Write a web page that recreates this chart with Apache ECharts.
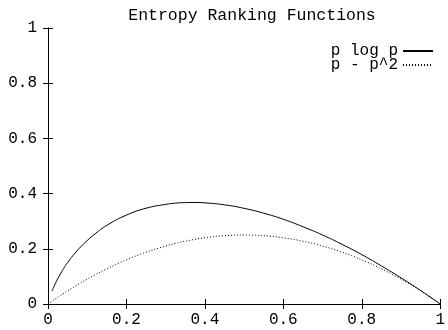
<!DOCTYPE html>
<html lang="en">
<head>
    <meta charset="UTF-8">
    <title>Entropy Ranking Functions</title>
    <script src="https://fastly.jsdelivr.net/npm/echarts@6/dist/echarts.min.js"></script>
    <style>
        html, body { margin: 0; padding: 0; background: #fff; }
    </style>
</head>
<body>
    <div id="dv" style="width:448px;height:330px;"></div>
</body>
<script>
   // x positions (p)
   var pValues = [0, 0.01, 0.02, 0.03, 0.04, 0.05, 0.06, 0.08, 0.1, 0.12, 0.15,
                  0.2, 0.25, 0.3, 0.325, 0.35, 0.375, 0.4, 0.45, 0.5, 0.55, 0.6, 0.65, 0.7,
                  0.75, 0.8, 0.85, 0.9, 0.95, 1.0]
   // solid curve, undefined at p = 0
   var plogpValues = [null, 0.046, 0.078, 0.105, 0.129, 0.150, 0.169, 0.202, 0.230, 0.254, 0.285,
                      0.322, 0.347, 0.361, 0.3654, 0.3674, 0.3678, 0.3665, 0.3593, 0.3466, 0.329, 0.307, 0.280, 0.250,
                      0.216, 0.179, 0.138, 0.095, 0.049, 0]
   // dotted curve
   var pp2Values = [0, 0.0099, 0.0196, 0.0291, 0.0384, 0.0475, 0.0564, 0.0736, 0.09, 0.1056, 0.1275,
                    0.16, 0.1875, 0.21, 0.2194, 0.2275, 0.2344, 0.24, 0.2475, 0.25, 0.2475, 0.24, 0.2275, 0.21,
                    0.1875, 0.16, 0.1275, 0.09, 0.0475, 0]
   var seriesNames = ['p log p', 'p - p^2']

   var font = 'Liberation Mono'
   var toPairs = (ys) => pValues.map((x, i) => [x, ys[i]])

   var myChart = echarts.init(document.getElementById('dv'))
   var frameAxis = {
        type: 'value',
        min: 0,
        max: 1,
        interval: 0.2,
        splitLine: { show: false },
        axisLine: { show: true, lineStyle: { color: '#000', width: 1 } },
        axisTick: { show: true, inside: true, length: 5, lineStyle: { color: '#000' } }
   }
   var option = {
        animation: false,
        backgroundColor: '#fff',
        title: {
            text: 'Entropy Ranking Functions',
            left: 247,
            textAlign: 'center',
            top: 2,
            textStyle: { fontFamily: font, fontSize: 16.5, fontWeight: 'normal', color: '#000' }
        },
        legend: {
            data: seriesNames,
            orient: 'vertical',
            align: 'right',
            right: 9,
            top: 38,
            itemWidth: 30,
            itemHeight: 12,
            itemGap: -2,
            itemStyle: { opacity: 0 },
            textStyle: { fontFamily: font, fontSize: 16, color: '#000' }
        },
        grid: { left: 48, right: 1, top: 28, bottom: 26 },
        xAxis: [
            Object.assign({}, frameAxis, {
                position: 'bottom',
                axisLabel: { fontFamily: font, fontSize: 16, color: '#000', margin: 8 }
            }),
            Object.assign({}, frameAxis, { position: 'top', axisLabel: { show: false } })
        ],
        yAxis: [
            Object.assign({}, frameAxis, {
                position: 'left',
                axisLabel: { fontFamily: font, fontSize: 16, color: '#000', margin: 11 }
            }),
            Object.assign({}, frameAxis, { position: 'right', axisLabel: { show: false } })
        ],
        series: [{
            name: seriesNames[0],
            type: 'line',
            smooth: true,
            symbol: 'none',
            lineStyle: { color: '#000', width: 1 },
            itemStyle: { color: '#000' },
            data: toPairs(plogpValues)
        }, {
            name: seriesNames[1],
            type: 'line',
            smooth: true,
            symbol: 'none',
            lineStyle: { color: '#000', width: 1, type: [1, 2] },
            itemStyle: { color: '#000' },
            data: toPairs(pp2Values)
        }]
   }
   myChart.setOption(option)
</script>
</html>
